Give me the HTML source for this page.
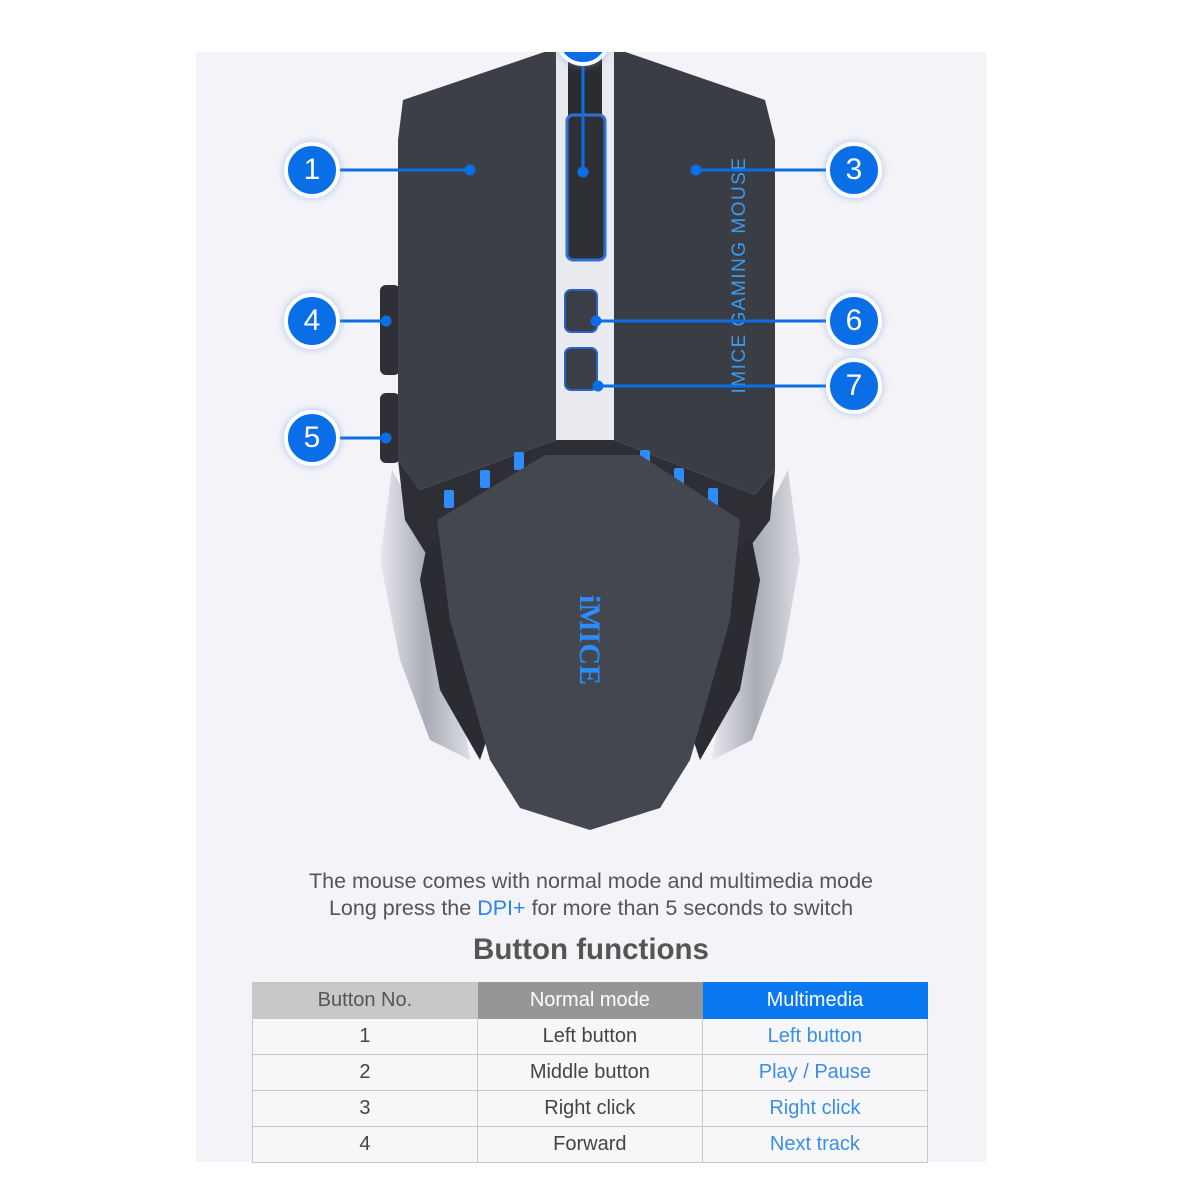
<!DOCTYPE html>
<html><head><meta charset="utf-8"><style>
body{margin:0;width:1200px;height:1200px;background:#fff;position:relative;overflow:hidden;font-family:"Liberation Sans",sans-serif}
.panel{position:absolute;left:196px;top:52px;width:790px;height:1110px;background:#f4f3f8}
.c{position:absolute;width:48px;height:48px;border-radius:50%;background:#0a6fe6;border:4px solid #fff;box-shadow:0 0 6px 2px rgba(120,160,220,.35);color:#fff;font-size:30px;text-align:center;line-height:48px;margin:-28px 0 0 -28px}
.t{position:absolute;left:196px;width:790px;text-align:center;color:#555;font-size:21.5px}
table{position:absolute;left:252px;top:982px;border-collapse:collapse;width:676px}
td{width:225px;height:35px;border:1px solid #c9c9cc;text-align:center;font-size:20px;color:#444;padding:0;background:#f7f7fa}
td.b{color:#3a8ee8}
</style></head><body>
<div class="panel"></div>
<svg width="1200" height="1200" style="position:absolute;left:0;top:0">
<defs><linearGradient id="sv" x1="0" x2="1"><stop offset="0" stop-color="#e8e8ee"/><stop offset=".5" stop-color="#a9acb6"/><stop offset="1" stop-color="#dcdde4"/></linearGradient></defs>
<path d="M392 470 L380 560 L400 660 L430 740 L470 760 L450 640 L430 540 Z" fill="url(#sv)"/>
<path d="M788 470 L800 560 L782 660 L752 740 L712 760 L732 640 L752 540 Z" fill="url(#sv)"/>
<rect x="380" y="285" width="20" height="90" rx="6" fill="#2e3036"/>
<rect x="380" y="393" width="20" height="70" rx="6" fill="#2e3036"/>
<path d="M403 100 L556 48 L556 440 L420 490 L398 460 L398 140 Z" fill="#3c3f46"/>
<path d="M614 48 L765 100 L775 140 L775 470 L755 495 L614 440 Z" fill="#3a3d44"/>
<rect x="556" y="48" width="58" height="395" fill="#e9eaef"/>
<rect x="568" y="48" width="34" height="80" fill="#2b2c30"/>
<rect x="567" y="115" width="38" height="145" rx="6" fill="#2e3036" stroke="#2f6fd8" stroke-width="3"/>
<rect x="565" y="290" width="32" height="42" rx="6" fill="#3b3e47" stroke="#2a62c9" stroke-width="2"/>
<rect x="565" y="348" width="32" height="42" rx="6" fill="#3b3e47" stroke="#2a62c9" stroke-width="2"/>
<path d="M398 460 L420 490 L556 440 L614 440 L755 495 L775 470 L770 520 L740 560 L430 560 L405 520 Z" fill="#2d2f35"/>
<g fill="#2f8cff">
<rect x="444" y="490" width="10" height="18" rx="2"/><rect x="480" y="470" width="10" height="18" rx="2"/><rect x="514" y="452" width="10" height="18" rx="2"/>
<rect x="640" y="450" width="10" height="18" rx="2"/><rect x="674" y="468" width="10" height="18" rx="2"/><rect x="708" y="488" width="10" height="18" rx="2"/>
</g>
<path d="M428 540 L420 580 L440 690 L480 760 L500 700 L470 560 Z" fill="#2a2c31"/>
<path d="M752 540 L760 580 L740 690 L700 760 L680 700 L710 560 Z" fill="#2a2c31"/>
<path d="M545 455 L640 455 L740 520 L730 620 L690 760 L660 808 L590 830 L520 808 L490 760 L450 620 L437 520 Z" fill="#44474f"/>
<text x="0" y="0" transform="translate(580,640) rotate(90)" text-anchor="middle" fill="#2b8cff" font-family="Liberation Serif,serif" font-size="30" font-weight="bold">iMICE</text>
<text x="0" y="0" transform="translate(745,275) rotate(-90)" text-anchor="middle" fill="#3a9cf0" font-size="19" letter-spacing="1.5">IMICE GAMING MOUSE</text>
<g stroke="#0a6fe6" stroke-width="3" fill="#0a6fe6">
<line x1="312" y1="170" x2="470" y2="170"/><circle cx="470" cy="170" r="4"/>
<line x1="854" y1="170" x2="696" y2="170"/><circle cx="696" cy="170" r="4"/>
<line x1="312" y1="321" x2="386" y2="321"/><circle cx="386" cy="321" r="4"/>
<line x1="312" y1="438" x2="386" y2="438"/><circle cx="386" cy="438" r="4"/>
<line x1="854" y1="321" x2="596" y2="321"/><circle cx="596" cy="321" r="4"/>
<line x1="854" y1="386" x2="598" y2="386"/><circle cx="598" cy="386" r="4"/>
<line x1="583" y1="50" x2="583" y2="172"/><circle cx="583" cy="172" r="4"/>
</g>
</svg>
<div class="c" style="left:583px;top:38px"></div>
<div class="panel" style="top:0;height:52px;background:#fff;left:0;width:1200px"></div>
<div class="c" style="left:312px;top:170px">1</div>
<div class="c" style="left:854px;top:170px">3</div>
<div class="c" style="left:312px;top:321px">4</div>
<div class="c" style="left:854px;top:321px">6</div>
<div class="c" style="left:854px;top:386px">7</div>
<div class="c" style="left:312px;top:438px">5</div>
<div class="t" style="top:869px">The mouse comes with normal mode and multimedia mode</div>
<div class="t" style="top:896px">Long press the <span style="color:#2a86e8">DPI+</span> for more than 5 seconds to switch</div>
<div class="t" style="top:933px;font-size:29.5px;font-weight:bold;color:#555">Button functions</div>
<table>
<tr><td style="background:#c8c8c8;color:#555;border-color:#c8c8c8">Button No.</td><td style="background:#969696;color:#fff;border-color:#969696">Normal mode</td><td style="background:#0a78f0;color:#fff;border-color:#0a78f0">Multimedia</td></tr>
<tr><td>1</td><td>Left button</td><td class="b">Left button</td></tr>
<tr><td>2</td><td>Middle button</td><td class="b">Play / Pause</td></tr>
<tr><td>3</td><td>Right click</td><td class="b">Right click</td></tr>
<tr><td>4</td><td>Forward</td><td class="b">Next track</td></tr>
</table>
</body></html>
